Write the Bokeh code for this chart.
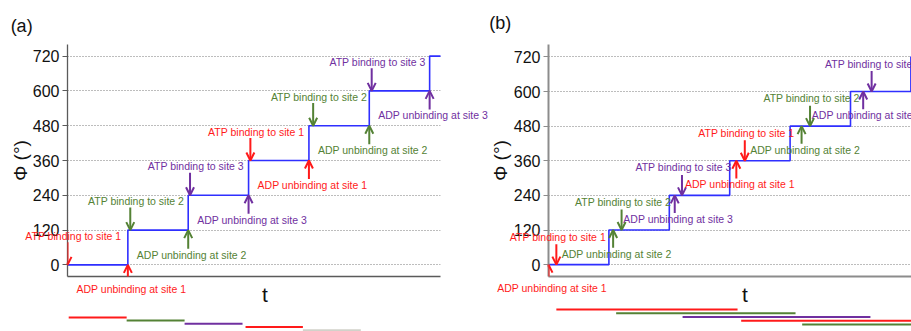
from bokeh.plotting import figure
from bokeh.layouts import row
from bokeh.models import Range1d, FixedTicker, Arrow, OpenHead
from bokeh.core.properties import value
from bokeh.embed import file_html
from bokeh.resources import INLINE

FONT = "Liberation Sans"

# Rotor angle Φ (degrees): axis ticks and the plateau levels of the staircase
phi_ticks = [0, 120, 240, 360, 480, 600, 720]
step_levels = [0, 120, 240, 360, 480, 600, 720]
sites = [1, 2, 3, 1, 2, 3]

# ---- panel (a): one nucleotide bound at a time
a_step_t = [0, 1, 2, 3, 4, 5, 6]
a_trace_end = 6.2
a_atp_t = [0.0, 1.04, 2.03, 3.03, 4.07, 5.04]
a_atp_phi = [0, 120, 240, 360, 480, 600]
a_adp_t = [1, 2, 3, 4, 5, 6]
a_adp_phi = [0, 120, 240, 360, 480, 600]
a_bar_start = [0.02, 0.98, 1.94, 2.95, 3.90]
a_bar_end = [0.98, 1.94, 2.90, 3.90, 4.86]
a_bar_site = [1, 2, 3, 1, 0]

# ---- panel (b): overlapping occupancy of the three sites
b_step_t = [0, 1, 2, 3, 4, 5, 6]
b_trace_end = 6.2
b_atp_t = [0.13, 1.21, 2.21, 3.25, 4.33, 5.35]
b_atp_phi = [0, 120, 240, 360, 480, 600]
b_adp_t = [0.0, 1.07, 2.09, 3.11, 4.19, 5.21]
b_adp_phi = [0, 120, 240, 360, 480, 600]
b_bar_start = [0.13, 1.12, 2.22, 3.19, 4.20]
b_bar_end = [3.13, 4.09, 5.33, 6.20, 7.20]
b_bar_site = [1, 2, 3, 1, 2]

SITE_COLOR = {0: "#d2d2ca", 1: "#ff1a1a", 2: "#548235", 3: "#7030a0"}
TRACE_COLOR = "#2f2fff"


def make_panel(tag, width, x_end, y_lo, y_hi, borders, axis_color, axis_width,
               step_t, trace_end, atp_t, atp_phi, adp_t, adp_phi,
               bar_start, bar_end, bar_site,
               atp_len, adp_len, atp_dx, atp_dy, adp_dx, adp_dy,
               bar_y0, bar_dy, tag_xy, t_xy, ylab_xy):
    left, right, top, bottom = borders
    p = figure(width=width, height=331, x_range=Range1d(0, x_end),
               y_range=Range1d(y_lo, y_hi), output_backend="svg",
               toolbar_location=None, min_border_left=left,
               min_border_right=right, min_border_top=top,
               min_border_bottom=bottom)
    p.outline_line_color = None
    p.background_fill_color = "white"
    p.border_fill_color = "white"

    p.xgrid.visible = False
    p.ygrid.ticker = FixedTicker(ticks=phi_ticks)
    p.ygrid.grid_line_color = "#7a7a7a"
    p.ygrid.grid_line_dash = "1 2"
    p.ygrid.grid_line_width = 1

    ya = p.yaxis[0]
    ya.ticker = FixedTicker(ticks=phi_ticks)
    ya.minor_tick_line_color = None
    ya.major_tick_in = 0
    ya.major_tick_out = 5
    ya.major_tick_line_color = axis_color
    ya.axis_line_color = axis_color
    ya.axis_line_width = axis_width
    ya.major_label_standoff = 3
    ya.major_label_text_font = FONT
    ya.major_label_text_font_size = "16px"
    ya.major_label_text_color = "#111111"

    xa = p.xaxis[0]
    xa.ticker = FixedTicker(ticks=[])
    xa.minor_tick_line_color = None
    xa.major_tick_line_color = None
    xa.axis_line_color = axis_color
    xa.axis_line_width = axis_width

    # staircase of the rotor angle
    p.step(x=step_t + [trace_end], y=step_levels + [step_levels[-1]],
           mode="after", line_color=TRACE_COLOR, line_width=1.6)

    # event arrows: ATP binding points down onto the plateau, ADP release up
    for t, phi, s in zip(atp_t, atp_phi, sites):
        c = SITE_COLOR[s]
        p.add_layout(Arrow(x_start=t, y_start=phi + atp_len, x_end=t, y_end=phi,
                           line_color=c, line_width=2,
                           end=OpenHead(size=8, line_color=c, line_width=2)))
    for t, phi, s in zip(adp_t, adp_phi, sites):
        c = SITE_COLOR[s]
        p.add_layout(Arrow(x_start=t, y_start=phi - adp_len, x_end=t, y_end=phi,
                           line_color=c, line_width=2,
                           end=OpenHead(size=8, line_color=c, line_width=2)))

    common = dict(text_font=value(FONT), text_font_size="10.5px",
                  text_align="center", text_baseline="middle", level="overlay")
    p.text(x=atp_t, y=atp_phi,
           text=[f"ATP binding to site {s}" for s in sites],
           text_color=[SITE_COLOR[s] for s in sites],
           x_offset=atp_dx, y_offset=atp_dy, **common)
    p.text(x=adp_t, y=adp_phi,
           text=[f"ADP unbinding at site {s}" for s in sites],
           text_color=[SITE_COLOR[s] for s in sites],
           x_offset=adp_dx, y_offset=adp_dy, **common)

    # occupancy bars under the time axis
    bar_y = [bar_y0 - i * bar_dy for i in range(len(bar_start))]
    p.segment(x0=bar_start, y0=bar_y, x1=bar_end, y1=bar_y,
              line_color=[SITE_COLOR[s] for s in bar_site], line_width=2,
              level="overlay")

    p.text(x=[tag_xy[0]], y=[tag_xy[1]], text=[tag], text_font=value(FONT),
           text_font_size="18px", text_align="center", text_baseline="middle",
           text_color="#111111", level="overlay")
    p.text(x=[t_xy[0]], y=[t_xy[1]], text=["t"], text_font=value(FONT),
           text_font_size="21px", text_align="center", text_baseline="middle",
           text_color="#111111", level="overlay")
    p.text(x=[ylab_xy[0]], y=[ylab_xy[1]], text=["Φ (°)"], text_font=value(FONT),
           text_font_size="19px", text_align="center", text_baseline="middle",
           angle=1.5708, text_color="#111111", level="overlay")
    return p


pa = make_panel("(a)", 489, 6.18, -40, 760, (67, 49, 40, 55), "#5a5a5a", 1.3,
                a_step_t, a_trace_end, a_atp_t, a_atp_phi, a_adp_t, a_adp_phi,
                a_bar_start, a_bar_end, a_bar_site,
                78, 64, 5.8, -29, 3.5, 24.5,
                -181, 11, (-0.76, 823), (3.27, -103), (-0.78, 360))

pb = make_panel("(b)", 422, 6.01, -41, 763, (59, 0, 44, 50), "#8c8c8c", 2,
                b_step_t, b_trace_end, b_atp_t, b_atp_phi, b_adp_t, b_adp_phi,
                b_bar_start, b_bar_end, b_bar_site,
                71, 61, 1.5, -28, 3.5, 23.5,
                -155, 13, (-0.80, 838), (3.25, -105), (-0.79, 361))

layout = row(pa, pb, spacing=0)
open("out.html", "w").write(file_html(layout, INLINE))
